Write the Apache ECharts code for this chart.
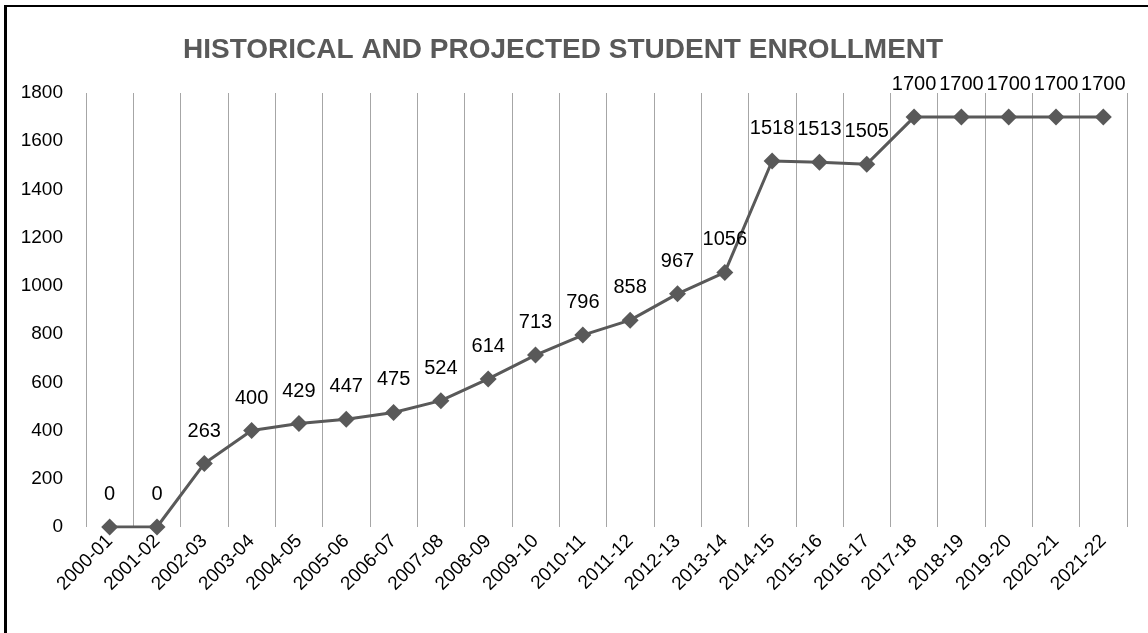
<!DOCTYPE html>
<html><head><meta charset="utf-8">
<script src="https://cdn.jsdelivr.net/npm/echarts@6/dist/echarts.min.js"></script>
<style>
html,body{margin:0;padding:0;background:#fff;overflow:hidden;}
#frame{position:absolute;left:4px;top:5px;width:1200px;height:700px;border-left:3px solid #000;border-top:2px solid #000;box-sizing:border-box;}
#c{position:absolute;left:0;top:0;width:1148px;height:633px;}
</style></head>
<body>
<div id="frame"></div>
<div id="c"></div>
<script>
const categories = ["2000-01","2001-02","2002-03","2003-04","2004-05","2005-06","2006-07","2007-08","2008-09","2009-10","2010-11","2011-12","2012-13","2013-14","2014-15","2015-16","2016-17","2017-18","2018-19","2019-20","2020-21","2021-22"];
const enrollment = [0,0,263,400,429,447,475,524,614,713,796,858,967,1056,1518,1513,1505,1700,1700,1700,1700,1700];
const yTicks = {min:0, max:1800, interval:200};
const titleText = "HISTORICAL AND PROJECTED STUDENT ENROLLMENT";

const chart = echarts.init(document.getElementById('c'), null, {renderer:'canvas'});
chart.setOption({
  animation:false,
  backgroundColor:'transparent',
  title:{text:titleText,left:178,top:31,
    textStyle:{fontFamily:'Liberation Sans, Arial, sans-serif',fontWeight:'bold',fontSize:28,color:'#595959'}},
  grid:{left:86,right:21,top:93,bottom:106,containLabel:false},
  xAxis:{type:'category',data:categories,boundaryGap:true,
    axisLine:{show:false},axisTick:{show:false},
    splitLine:{show:true,lineStyle:{color:'#a6a6a6',width:1}},
    axisLabel:{rotate:45,fontSize:19,color:'#000',margin:11,interval:0,
      fontFamily:'Liberation Sans, Arial, sans-serif'}},
  yAxis:{type:'value',min:yTicks.min,max:yTicks.max,interval:yTicks.interval,
    axisLine:{show:false},axisTick:{show:false},splitLine:{show:false},
    axisLabel:{fontSize:19,color:'#000',margin:23,formatter:(v)=>String(v),
      fontFamily:'Liberation Sans, Arial, sans-serif'}},
  series:[{type:'line',data:enrollment,symbol:'diamond',symbolSize:17,
    lineStyle:{color:'#595959',width:3},
    itemStyle:{color:'#595959'},
    label:{show:true,position:'top',distance:14,fontSize:20,color:'#000',
      fontFamily:'Liberation Sans, Arial, sans-serif'}}]
});
</script>
</body></html>
